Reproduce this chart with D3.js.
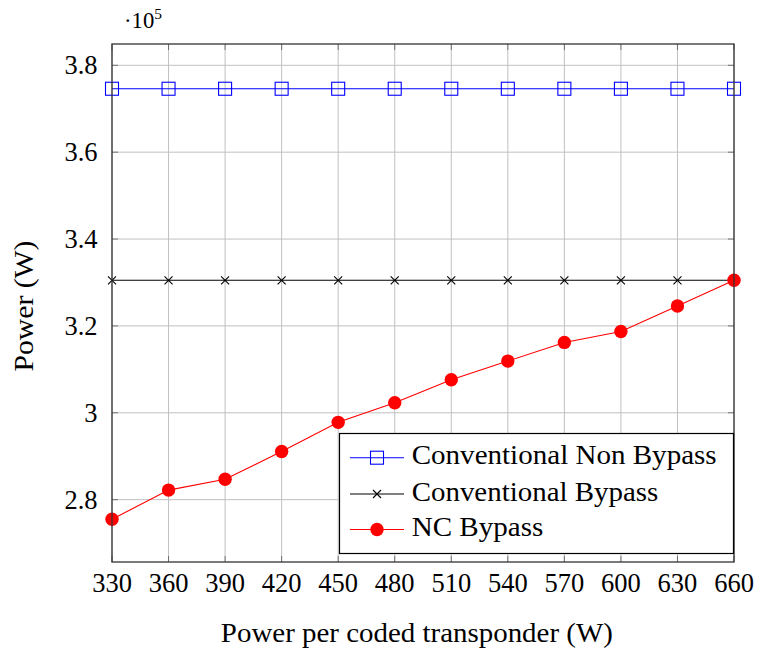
<!DOCTYPE html>
<html><head><meta charset="utf-8">
<script src="https://cdn.jsdelivr.net/npm/d3@7"></script>
<style>body{margin:0;background:#fff} svg text{font-family:"Liberation Serif",serif;fill:#000}</style>
</head><body><svg id="c" width="757" height="653"></svg>
<script>
const xValues = [330,360,390,420,450,480,510,540,570,600,630,660];
const nonBypass = [3.746,3.746,3.746,3.746,3.746,3.746,3.746,3.746,3.746,3.746,3.746,3.746];
const convBypass = [3.305,3.305,3.305,3.305,3.305,3.305,3.305,3.305,3.305,3.305,3.305,3.305];
const ncBypass = [2.755,2.822,2.847,2.911,2.978,3.023,3.076,3.119,3.162,3.187,3.246,3.305];
const yTicks = [2.8,3.0,3.2,3.4,3.6,3.8];
const yTickLabels = ["2.8","3","3.2","3.4","3.6","3.8"];
const seriesNames = ["Conventional Non Bypass","Conventional Bypass","NC Bypass"];
const xTitle = "Power per coded transponder (W)";
const yTitle = "Power (W)";

const FF = "Liberation Serif";
const FS = 26.5;
const svg = d3.select("#c");
const L=112,R=734,T=44,B=562;
const x = d3.scaleLinear().domain([330,660]).range([L,R]);
const y = d3.scaleLinear().domain([2.6565,3.849]).range([B,T]);
const grid="#c0c0c0", ax="#333";

const g = svg.append("g");
function txt(sel){return sel.attr("font-family",FF).style("font-family","'Liberation Serif', serif");}
// grid
g.selectAll(".gx").data(xValues).join("line").attr("x1",d=>x(d)).attr("x2",d=>x(d)).attr("y1",T).attr("y2",B).attr("stroke",grid).attr("stroke-width",1);
g.selectAll(".gy").data(yTicks).join("line").attr("x1",L).attr("x2",R).attr("y1",d=>y(d)).attr("y2",d=>y(d)).attr("stroke",grid).attr("stroke-width",1);
// ticks inward on all sides
const tl=6;
xValues.forEach(d=>{
  g.append("line").attr("x1",x(d)).attr("x2",x(d)).attr("y1",B).attr("y2",B-tl).attr("stroke",ax).attr("stroke-opacity",0.6);
  g.append("line").attr("x1",x(d)).attr("x2",x(d)).attr("y1",T).attr("y2",T+tl).attr("stroke",ax).attr("stroke-opacity",0.6);
});
yTicks.forEach(d=>{
  g.append("line").attr("x1",L).attr("x2",L+tl).attr("y1",y(d)).attr("y2",y(d)).attr("stroke",ax).attr("stroke-opacity",0.6);
  g.append("line").attr("x1",R).attr("x2",R-tl).attr("y1",y(d)).attr("y2",y(d)).attr("stroke",ax).attr("stroke-opacity",0.6);
});
// tick labels
txt(g.selectAll(".xl").data(xValues).join("text")).attr("x",d=>x(d)).attr("y",591.5).attr("text-anchor","middle").attr("font-size",FS).text(d=>d);
txt(g.selectAll(".yl").data(yTicks).join("text")).attr("x",97.5).attr("y",d=>y(d)+9).attr("text-anchor","end").attr("font-size",FS).text((d,i)=>yTickLabels[i]);
// exponent
const ex = txt(g.append("text")).attr("x",124).attr("y",28.3).attr("font-size",22.7);
ex.append("tspan").text("\u00b710");
ex.append("tspan").attr("dy",-9).attr("font-size",15.5).text("5");
// titles
txt(g.append("text")).attr("x",(220.7+613)/2).attr("y",641.5).attr("text-anchor","middle").attr("font-size",FS)
  .attr("textLength",392).attr("lengthAdjust","spacingAndGlyphs").text(xTitle);
txt(g.append("text")).attr("transform",`translate(33,306) rotate(-90)`).attr("text-anchor","middle").attr("font-size",FS)
  .attr("textLength",131).attr("lengthAdjust","spacingAndGlyphs").text(yTitle);

const line = d3.line().x((d,i)=>x(xValues[i])).y(d=>y(d));
// series
g.append("path").datum(nonBypass).attr("d",line).attr("fill","none").attr("stroke","#0000ff").attr("stroke-width",1.1);
g.append("path").datum(convBypass).attr("d",line).attr("fill","none").attr("stroke","#000").attr("stroke-width",1.1);
g.append("path").datum(ncBypass).attr("d",line).attr("fill","none").attr("stroke","#ff0000").attr("stroke-width",1.1);

function sq(sel,cx,cy){sel.append("rect").attr("x",cx-6.5).attr("y",cy-6.5).attr("width",13).attr("height",13).attr("fill","none").attr("stroke","#0000ff").attr("stroke-width",1.1);}
function cr(sel,cx,cy){const s=4;sel.append("path").attr("d",`M${cx-s},${cy-s}L${cx+s},${cy+s}M${cx-s},${cy+s}L${cx+s},${cy-s}`).attr("stroke","#000").attr("stroke-width",1.1);}
function ci(sel,cx,cy){sel.append("circle").attr("cx",cx).attr("cy",cy).attr("r",6.7).attr("fill","#ff0000");}
nonBypass.forEach((d,i)=>sq(g,x(xValues[i]),y(d)));
convBypass.forEach((d,i)=>cr(g,x(xValues[i]),y(d)));
ncBypass.forEach((d,i)=>ci(g,x(xValues[i]),y(d)));

// axis box
g.append("rect").attr("x",L).attr("y",T).attr("width",R-L).attr("height",B-T).attr("fill","none").attr("stroke",ax).attr("stroke-width",1.3);

// legend
const lg = g.append("g");
lg.append("rect").attr("x",339.5).attr("y",433.5).attr("width",394).attr("height",120).attr("fill","#fff").attr("stroke","#000").attr("stroke-width",1.2);
const rows=[457.7,494,529.5], cols=["#0000ff","#000","#ff0000"], mk=[sq,cr,ci], widths=[305,246.6,131.6];
rows.forEach((ry,i)=>{
  lg.append("line").attr("x1",350).attr("x2",404).attr("y1",ry).attr("y2",ry).attr("stroke",cols[i]).attr("stroke-width",1.1);
  mk[i](lg,377,ry);
  txt(lg.append("text")).attr("x",411.7).attr("y",ry+6.5).attr("font-size",FS)
    .attr("textLength",widths[i]).attr("lengthAdjust","spacingAndGlyphs").text(seriesNames[i]);
});
</script></body></html>
